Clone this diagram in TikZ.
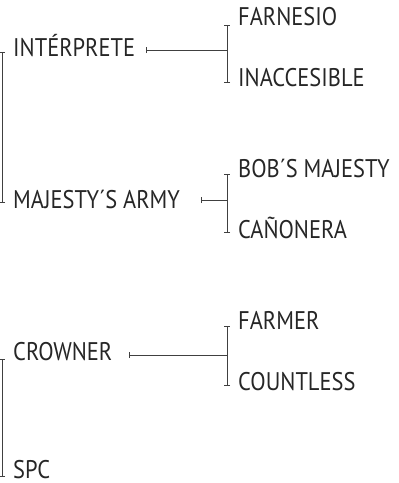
\documentclass[tikz,border=0pt]{standalone}
\usepackage{fontspec}
\setmainfont[FakeStretch=0.88]{PT Sans}
\usetikzlibrary{arrows.meta}
\tikzset{
  lbl/.style={anchor=base west, inner sep=0pt, text=black!85, font=\fontsize{25.5}{25.5}\selectfont},
  brk/.style={{Bar[width=6pt]}-{Bar[width=6pt]}, draw=black!75, line width=0.9pt},
  stem/.style={{Bar[width=6pt]}-, draw=black!75, line width=0.9pt}
}
\begin{document}
\begin{tikzpicture}[x=1pt, y=-1pt]
\useasboundingbox (0,0) rectangle (399,483);
\node[lbl] (inter) at (13,56) {INTÉRPRETE};
\node[lbl] (majesty) at (13,208) {MAJESTY´S ARMY};
\node[lbl] (crowner) at (13,360) {CROWNER};
\node[lbl] (spc) at (13,478) {SPC};
\node[lbl] (farnesio) at (238,25) {FARNESIO};
\node[lbl] (inacc) at (238,86) {INACCESIBLE};
\node[lbl] (bob) at (238,177) {BOB´S MAJESTY};
\node[lbl] (canonera) at (238,238) {CAÑONERA};
\node[lbl] (farmer) at (238,329) {FARMER};
\node[lbl] (countless) at (238,390) {COUNTLESS};

\draw[brk]([shift={(-11pt,4pt)}]inter.base west)--([shift={(-11pt,5pt)}]majesty.base west);
\draw[brk]([shift={(-11pt,1pt)}]crowner.base west)--([shift={(-11pt,1pt)}]spc.base west);
\draw[brk]([shift={(-11pt,0pt)}]farnesio.base west)--([shift={(-11pt,3.5pt)}]inacc.base west);
\draw[brk]([shift={(-11pt,3pt)}]bob.base west)--([shift={(-11pt,5pt)}]canonera.base west);
\draw[brk]([shift={(-11pt,3pt)}]farmer.base west)--([shift={(-11pt,4pt)}]countless.base west);

\coordinate (j1) at (227,50);
\coordinate (j2) at (227,200);
\coordinate (j3) at (227,355);
\draw[stem](146,50)--(j1);
\draw[stem](201,200)--(j2);
\draw[stem](129,355)--(j3);
\end{tikzpicture}
\end{document}
